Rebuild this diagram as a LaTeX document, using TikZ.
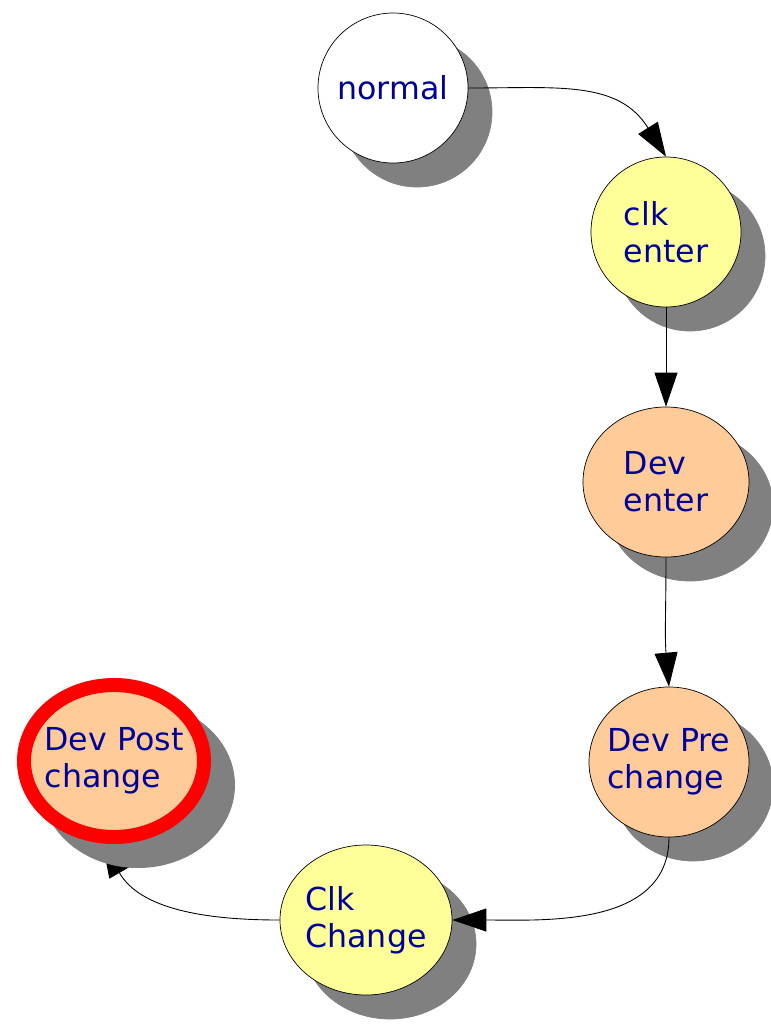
\documentclass[tikz,border=0pt]{standalone}
\usepackage{tikz}
\usepackage{xcolor}
\usepackage{fontspec}
\setmainfont{DejaVu Sans}
\usetikzlibrary{shapes.geometric, arrows.meta, positioning, shadows, backgrounds}
\definecolor{stateYellow}{RGB}{255, 255, 153}
\definecolor{stateOrange}{RGB}{255, 204, 153}
\definecolor{stateShadow}{RGB}{128, 128, 128}
\definecolor{stateText}{RGB}{0, 0, 153}
\definecolor{stateRed}{RGB}{255, 0, 0}

\begin{document}
\begin{tikzpicture}[
            statenode/.style={ellipse, draw=black, line width=0.4pt, inner sep=-0.4cm,
                          minimum width=3cm, minimum height=3cm, align=left,
                          font=\fontsize{18}{21}\selectfont, text=stateText,
                          drop shadow={shadow xshift=0.48cm, shadow yshift=-0.48cm,
                                       fill=stateShadow, draw=stateShadow, opacity=1}},
            arrow/.style={-{Triangle[length=0.68cm, width=0.46cm]}, line width=0.5pt}
        ]
            \useasboundingbox (0,0) rectangle (15.4,-20.48);

            \node[statenode, fill=white] (normal) at (7.86,-1.76) {normal};
            \node[statenode, fill=stateYellow] (clkEnter) at (13.32,-4.64) {clk\\enter};
            \node[statenode, fill=stateOrange, minimum width=3.32cm] (devEnter) at (13.32,-9.64) {Dev\\enter};
            \node[statenode, fill=stateOrange, minimum width=3.2cm] (devPre) at (13.38,-15.24) {Dev Pre\\change};
            \node[statenode, fill=stateYellow, minimum width=3.44cm] (clkChange) at (7.32,-18.40) {Clk\\Change};
            \node[statenode, fill=stateOrange, draw=stateRed, line width=0.28cm,
                  minimum width=3.6cm, minimum height=3.04cm] (devPost) at (2.28,-15.22) {Dev Post\\change};

            % Transitions
            \draw[arrow] (normal.east) to[out=0, in=122, looseness=1.1] (clkEnter.north);
            \draw[arrow] (clkEnter.south) -- (devEnter.north);
            \draw[arrow] (devEnter.south) to[out=-90, in=95] (devPre.north);
            \draw[arrow] (devPre.south) to[out=-90, in=0] (clkChange.east);
            % this one ends under the shadow
            \begin{pgfonlayer}{background}
            \draw[arrow] (clkChange.west) to[out=180, in=-60] (devPost.-98);
            \end{pgfonlayer}
        \end{tikzpicture}
\end{document}
